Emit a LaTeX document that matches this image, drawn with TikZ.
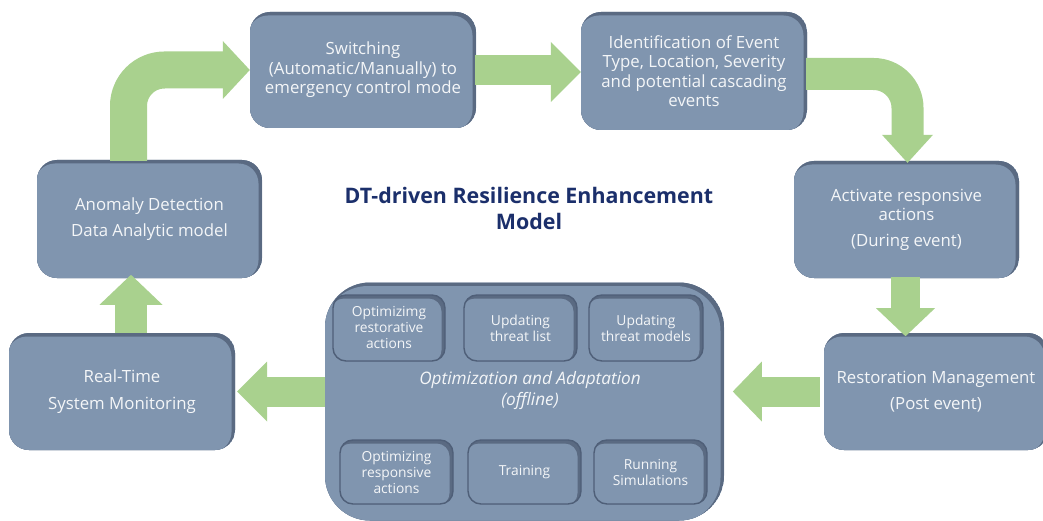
\documentclass[tikz,border=0pt]{standalone}
\usepackage{fontspec}
\setmainfont{Open Sans}
\definecolor{boxc}{HTML}{8095AF}
\definecolor{rimc}{HTML}{5A6A82}
\definecolor{edgec}{HTML}{4F5F78}
\definecolor{arrc}{HTML}{A9D18E}
\definecolor{ttlc}{HTML}{1B2F6B}
\definecolor{txtc}{HTML}{F4F6F8}
\tikzset{
  innershadow/.style={path picture={
    \fill[rimc] (path picture bounding box.south west) rectangle (path picture bounding box.north east);
    \fill[boxc, rounded corners=#1] ([xshift=-2pt,yshift=-2pt]path picture bounding box.south west) rectangle ([xshift=-3.5pt,yshift=-3.5pt]path picture bounding box.north east);
  }},
  blk/.style={rounded corners=20pt, fill=boxc, text=txtc, align=center, inner sep=0pt,
    font=\fontsize{16.8}{19.5}\selectfont, innershadow=20pt},
  sub/.style={rounded corners=13pt, fill=boxc, draw=edgec, line width=1.4pt, text=txtc, align=center,
    inner sep=0pt, font=\fontsize{13.8}{16}\selectfont, innershadow=13pt,
    minimum height=66pt},
  bigblk/.style={rounded corners=45pt, fill=boxc, innershadow=45pt},
  shaft/.style={draw=arrc, line cap=butt},
  head/.style={fill=arrc},
}
\begin{document}
\begin{tikzpicture}[x=1pt,y=-1pt]
\useasboundingbox (0,0) rectangle (1043,521);
\fill[white] (0,0) rectangle (1043,521);

% main blocks
\node[blk, minimum width=226pt, minimum height=116pt] (sw) at (363,70)
  {Switching\\(Automatic/Manually) to\\emergency control mode};
\node[blk, minimum width=226pt, minimum height=118pt] (idf) at (694,71)
  {Identification of Event\\Type, Location, Severity\\and potential cascading\\events};
\node[blk, minimum width=225pt, minimum height=117pt] (act) at (906.5,219.5)
  {Activate responsive\\actions\\[6pt](During event)};
\node[blk, minimum width=224pt, minimum height=117pt] (rest) at (936,391.5)
  {Restoration Management\\[7pt](Post event)};
\node[blk, minimum width=225pt, minimum height=118pt] (anom) at (149.5,219)
  {Anomaly Detection\\[7pt]Data Analytic model};
\node[blk, minimum width=226pt, minimum height=117pt] (rt) at (122,391.5)
  {Real-Time\\[7pt]System Monitoring};

% big block
\node[bigblk, minimum width=399pt, minimum height=238pt] (big) at (524.5,401.5) {};
\node[text=txtc, align=center, font=\fontsize{17.2}{21}\selectfont\itshape] (bigl) at (530,391)
  {Optimization and Adaptation\\(offline)};
\node[sub, minimum width=112pt] (i1) at (389,328) {Optimizimg\\restorative\\actions};
\node[sub, minimum width=113pt] (i2) at (520.5,328) {Updating\\threat list};
\node[sub, minimum width=114pt] (i3) at (646,328) {Updating\\threat models};
\node[sub, minimum width=113pt, minimum height=64pt] (i4) at (396.5,472) {Optimizing\\responsive\\actions};
\node[sub, minimum width=113pt, minimum height=64pt] (i5) at (524.5,472) {Training};
\node[sub, minimum width=113pt, minimum height=64pt] (i6) at (650.5,472) {Running\\Simulations};

% title
\node[text=ttlc, align=center, font=\fontsize{21.4}{26}\selectfont\bfseries] (title) at (529,208)
  {DT-driven Resilience Enhancement\\Model};

% arrows
% anomaly -> switching (bent)
\draw[shaft, line width=37pt, rounded corners=36pt] ([xshift=-21pt,yshift=-1pt]anom.north) |- ([xshift=-26pt]sw.west);
\fill[head] (sw.west) -- ++(-27pt,29pt) -- ++(0,-58pt) -- cycle;
% switching -> identification
\draw[shaft, line width=30pt] ([xshift=-1pt]sw.east) -- ++(76pt,0);
\fill[head] ([yshift=-1pt]idf.west) -- ++(-30pt,30pt) -- ++(0,-60pt) -- cycle;
% identification -> activate (bent)
\draw[shaft, line width=32pt, rounded corners=34pt] ([xshift=-1pt,yshift=-3pt]idf.east) -| ([xshift=1pt,yshift=25pt]act.north);
\fill[head] ([xshift=1pt,yshift=-2pt]act.north) -- ++(-25.5pt,28pt) -- ++(51pt,0) -- cycle;
% activate -> restoration
\draw[shaft, line width=29pt] ([xshift=-1pt,yshift=1pt]act.south) -- ++(0,-32pt);
\fill[head] ([xshift=-1pt,yshift=-58pt]act.south) -- ++(-29.5pt,28pt) -- ++(59pt,0) -- cycle;
% restoration -> big
\draw[shaft, line width=30pt] ([xshift=-4pt]rest.west) -- ++(-59pt,0);
\fill[head] ([xshift=-91pt]rest.west) -- ++(29pt,30pt) -- ++(0,-60pt) -- cycle;
% big -> real-time
\draw[shaft, line width=30pt] (big.west |- rt.east) -- ([xshift=31pt]rt.east);
\fill[head] ([xshift=2pt]rt.east) -- ++(30pt,30pt) -- ++(0,-60pt) -- cycle;
% real-time -> anomaly
\draw[shaft, line width=32pt] ([xshift=9pt]rt.north) -- ++(0,29pt);
\fill[head] ([xshift=9pt,yshift=58pt]rt.north) -- ++(-31.5pt,-30pt) -- ++(63pt,0) -- cycle;
\end{tikzpicture}
\end{document}
